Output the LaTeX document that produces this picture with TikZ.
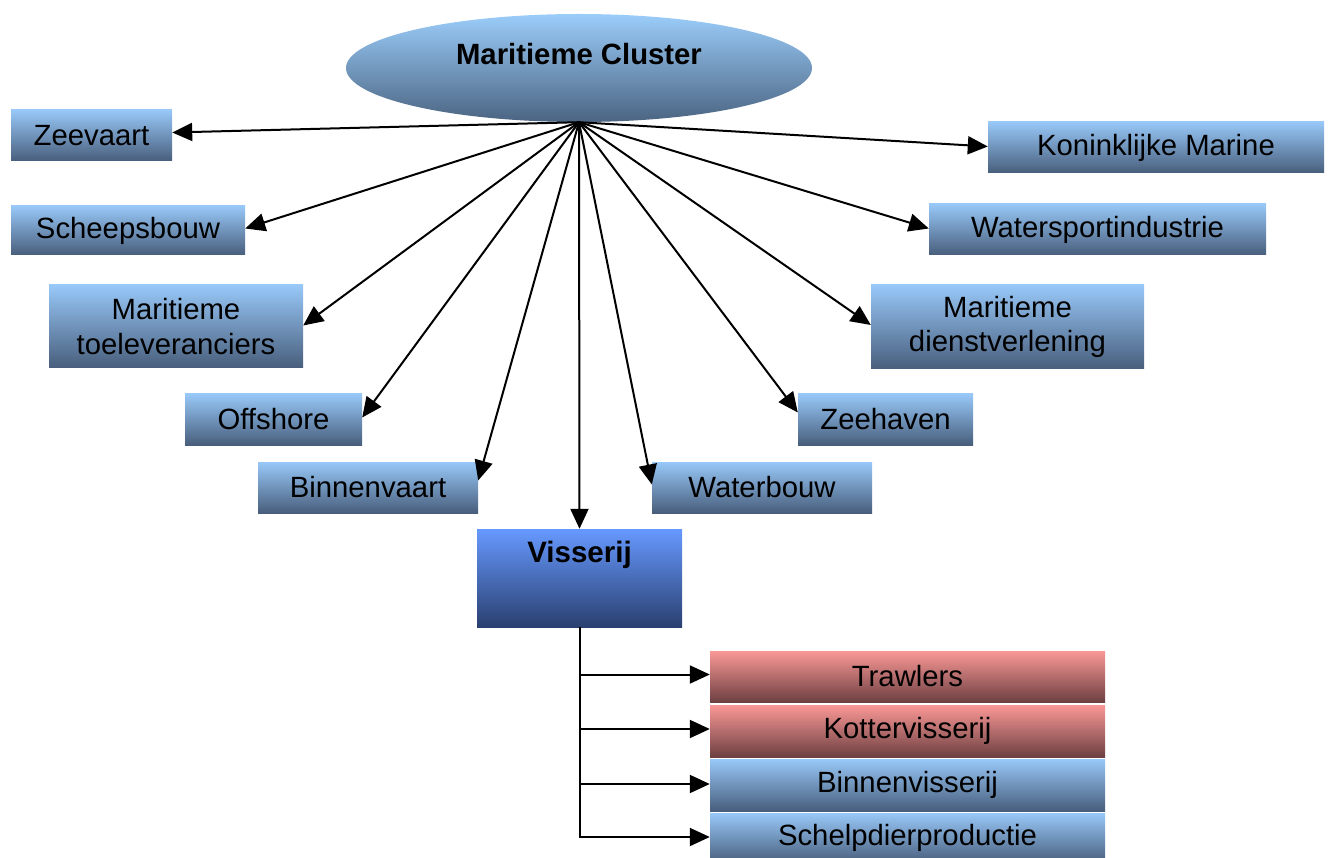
\documentclass[tikz,border=0pt]{standalone}
\usepackage{fontspec}
\setmainfont{Liberation Sans}
\usetikzlibrary{arrows.meta,calc,shapes.geometric}
\definecolor{blueT}{RGB}{152,200,248}
\definecolor{blueB}{RGB}{72,94,124}
\definecolor{visT}{RGB}{102,153,255}
\definecolor{visB}{RGB}{42,64,112}
\definecolor{redT}{RGB}{250,152,150}
\definecolor{redB}{RGB}{110,64,66}
\definecolor{ellT}{RGB}{155,205,250}
\definecolor{ellB}{RGB}{75,100,130}
\tikzset{
  txt/.style={font=\fontsize{29.3}{34.5}\selectfont, text=black, align=center},
  bluebox/.style={rectangle, inner sep=0pt, top color=blueT, bottom color=blueB, txt},
  redbox/.style={rectangle, inner sep=0pt, top color=redT, bottom color=redB, txt},
  conn/.style={line width=2pt, draw=black, -{Triangle[length=20pt,width=18pt]}},
}
\begin{document}
\begin{tikzpicture}[x=1pt,y=-1pt]
\useasboundingbox (0,0) rectangle (1328,858);
% central ellipse
\node[ellipse, inner sep=0pt, minimum width=466pt, minimum height=108pt,
      top color=ellT, bottom color=ellB] (ell) at (579,68) {};
\node[font=\fontsize{29.3}{33}\selectfont\bfseries] (elltxt) at (579,54) {Maritieme Cluster};
\coordinate (hub) at (ell.south);
% left boxes
\node[bluebox, minimum width=161pt, minimum height=51pt] (zee) at (91.5,135.5) {Zeevaart};
\node[bluebox, minimum width=234pt, minimum height=49pt] (sch) at (128,230.5) {Scheepsbouw};
\node[bluebox, minimum width=254pt, minimum height=83pt] (toe) at (176,326.5) {Maritieme\\toeleveranciers};
\node[bluebox, minimum width=177pt, minimum height=51pt] (off) at (273.5,419.5) {Offshore};
\node[bluebox, minimum width=220pt, minimum height=51pt] (bv) at (368,487.5) {Binnenvaart};
% right boxes
\node[bluebox, minimum width=220pt, minimum height=51pt] (wb) at (762,487.5) {Waterbouw};
\node[bluebox, minimum width=175pt, minimum height=51pt] (zh) at (885.5,419.5) {Zeehaven};
\node[bluebox, minimum width=273pt, minimum height=84pt] (dv) at (1007.5,327) {Maritieme\\dienstverlening};
\node[bluebox, minimum width=337pt, minimum height=51pt] (ws) at (1097.5,229.5) {Watersportindustrie};
\node[bluebox, minimum width=336pt, minimum height=51pt] (km) at (1156,147.5) {Koninklijke Marine};
% Visserij
\node[rectangle, inner sep=0pt, minimum width=205pt, minimum height=98pt,
      top color=visT, bottom color=visB] (vis) at (579.5,578) {};
\node[font=\fontsize{29.5}{33}\selectfont\bfseries] (vistxt) at (579.5,555) {Visserij};
% sub boxes
\node[redbox, minimum width=395pt, minimum height=51pt] (tr) at (907.5,676.5) {Trawlers};
\node[redbox, minimum width=395pt, minimum height=52pt] (kv) at (907.5,731) {Kottervisserij};
\node[bluebox, minimum width=395pt, minimum height=52pt] (bi) at (907.5,785) {Binnenvisserij};
\node[bluebox, minimum width=395pt, minimum height=50pt] (sp) at (907.5,838) {Schelpdierproductie};
% connectors from hub
\draw[conn] (hub) -- ($(zee.east)+(0,-3)$);
\draw[conn] (hub) -- ($(sch.east)+(0,-2)$);
\draw[conn] (hub) -- ($(toe.east)+(0,-1)$);
\draw[conn] (hub) -- ($(off.east)+(0,-2)$);
\draw[conn] (hub) -- ($(bv.east)+(0,-7)$);
\draw[conn] (hub) -- (vis.north);
\draw[conn] (hub) -- ($(wb.west)+(0,-3)$);
\draw[conn] (hub) -- ($(zh.west)+(0,-7)$);
\draw[conn] (hub) -- ($(dv.west)+(0,-2)$);
\draw[conn] (hub) -- ($(ws.west)+(0,-1)$);
\draw[conn] (hub) -- ($(km.west)+(0,-1)$);
% Visserij tree
\draw[conn] (vis.south) |- ($(tr.west)+(0,-2)$);
\draw[conn] (vis.south) |- ($(kv.west)+(0,-2)$);
\draw[conn] (vis.south) |- ($(bi.west)+(0,-1)$);
\draw[conn] (vis.south) |- ($(sp.west)+(0,-1)$);
\end{tikzpicture}
\end{document}
